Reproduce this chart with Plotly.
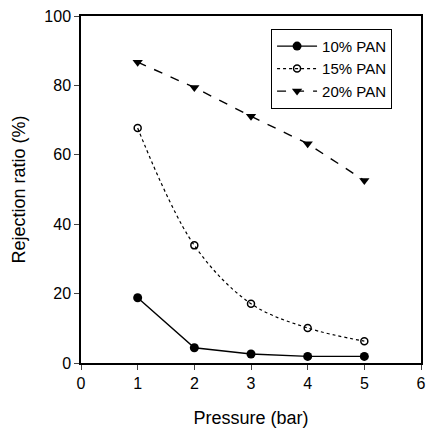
import plotly.graph_objects as go

pressure = [1, 2, 3, 4, 5]
pan10 = [18.8, 4.4, 2.6, 1.9, 1.9]
pan15 = [67.7, 33.9, 17.1, 10.1, 6.3]
pan20 = [86.7, 79.4, 71.1, 63.2, 52.6]
x_ticks = [0, 1, 2, 3, 4, 5, 6]
y_ticks = [0, 20, 40, 60, 80, 100]

fig = go.Figure()
fig.add_trace(go.Scatter(x=pressure, y=pan10, name="10% PAN", mode="lines+markers",
                         line=dict(color="black", width=1.4),
                         marker=dict(symbol="circle", size=9, color="black")))
fig.add_trace(go.Scatter(x=pressure, y=pan15, name="15% PAN", mode="lines+markers",
                         line=dict(color="black", width=1.2, dash="dot", shape="spline"),
                         marker=dict(symbol="circle-open", size=7, color="black", line=dict(width=1.5))))
fig.add_trace(go.Scatter(x=pressure, y=pan20, name="20% PAN", mode="lines+markers",
                         line=dict(color="black", width=1.4, dash="dash"),
                         marker=dict(symbol="triangle-down", size=9, color="black")))

font = "Liberation Sans, Arial, sans-serif"
fig.update_layout(
    width=430, height=429,
    margin=dict(l=81, r=4, t=16, b=66),
    paper_bgcolor="white", plot_bgcolor="white",
    font=dict(family=font, size=16, color="black"),
    showlegend=True,
    legend=dict(x=0.559, y=0.963, xanchor="left", yanchor="top",
                bordercolor="black", borderwidth=1, bgcolor="white",
                font=dict(size=15), tracegroupgap=0, itemwidth=40),
    xaxis=dict(range=[0, 6], tickvals=x_ticks, ticks="outside", ticklen=5,
               tickfont=dict(size=16),
               showline=True, linecolor="black", linewidth=1.5, mirror=True,
               showgrid=False, zeroline=False,
               title=dict(text="Pressure (bar)", font=dict(size=18), standoff=20)),
    yaxis=dict(range=[0, 100], tickvals=y_ticks, ticks="outside", ticklen=5,
               tickfont=dict(size=16),
               showline=True, linecolor="black", linewidth=1.5, mirror=True,
               showgrid=False, zeroline=False,
               title=dict(text="Rejection ratio (%)", font=dict(size=18), standoff=14)),
)
fig.write_html("out.html")
